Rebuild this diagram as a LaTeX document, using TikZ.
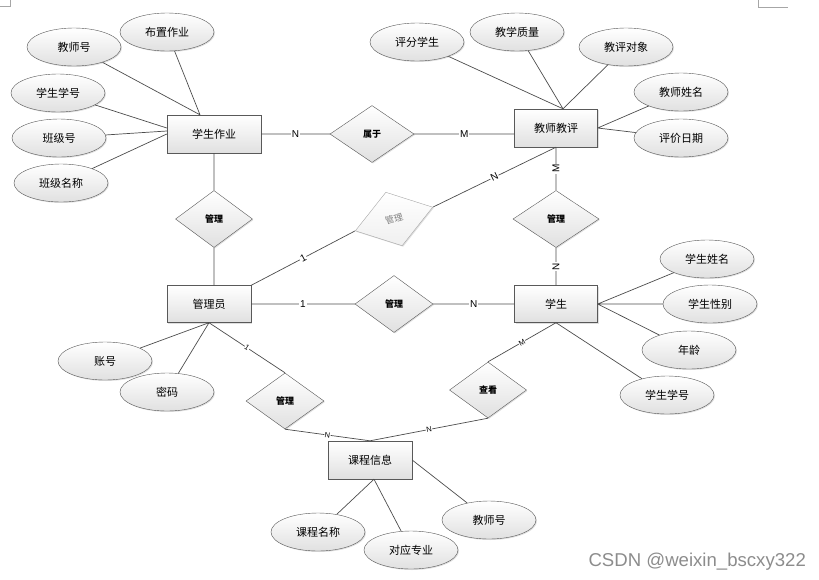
\documentclass[tikz,border=0pt]{standalone}
\usepackage{fontspec}
\setmainfont{Noto Sans CJK SC}
\setsansfont{Liberation Sans}
\usetikzlibrary{positioning}
\usetikzlibrary{shapes.geometric,shadows}

\begin{document}
\begin{tikzpicture}[x=1pt,y=-1pt,
  every node/.style={font=\fontsize{11}{13}\selectfont},
  shade/.style={top color=white,bottom color=black!12,drop shadow={opacity=0.25,shadow xshift=1pt,shadow yshift=-1pt}},
  ent/.style={draw=black!65,rectangle,shade,minimum width=84pt,minimum height=38pt},
  attr/.style={draw=black!65,ellipse,shade,minimum width=94pt,minimum height=38pt,inner sep=0pt},
  rel/.style={draw=black!65,diamond,shade,minimum width=78pt,minimum height=57pt,inner sep=0pt,font=\fontsize{9}{10}\selectfont\bfseries},
  link/.style={draw=black!70,line width=0.7pt},
  lbl/.style={fill=white,inner sep=0.8pt,font=\sffamily\fontsize{10}{11}\selectfont},
  slbl/.style={fill=white,inner sep=0.5pt,sloped,font=\sffamily\fontsize{7.5}{8}\selectfont}]
  \useasboundingbox (0,0) rectangle (819,579);
  % page corner marks
  \draw[black!35,line width=0.5pt] (0,6) -- (10,6) -- (10,0);
  \draw[black!35,line width=0.5pt] (758,0) -- (758,7) -- (788,7);

  % entities
  \node[ent,minimum width=94pt] (zy) at (214,134) {学生作业};
  \node[ent,minimum width=83pt] (jp) at (556,128) {教师教评};
  \node[ent,minimum height=37pt] (gly) at (209,304) {管理员};
  \node[ent,minimum width=83pt,minimum height=37pt] (xs) at (556,304) {学生};
  \node[ent] (kc) at (370,460) {课程信息};

  % relations
  \node[rel,minimum width=84pt] (sy) at (372,134) {属于};
  \node[rel,minimum width=77pt] (gl1) at (214,219) {管理};
  \node[rel,minimum width=86pt] (gl2) at (556,219) {管理};
  \node[rel] (gl3) at (394,304) {管理};
  \node[rel,minimum height=56pt] (gl4) at (285,401) {管理};
  \node[rel,minimum width=77pt,minimum height=56pt] (ck) at (488,390) {查看};
  \node[rel,draw=black!35,top color=white,bottom color=black!6,rotate=17,minimum width=81pt,minimum height=56pt,
        text=black!50,font=\fontsize{9}{10}\selectfont] (glg) at (394,219) {管理};

  % attributes
  \node[attr] (a1) at (74,47) {教师号};
  \node[attr] (a2) at (167,32) {布置作业};
  \node[attr] (a3) at (58,93) {学生学号};
  \node[attr] (a4) at (59,138) {班级号};
  \node[attr] (a5) at (61,183) {班级名称};
  \node[attr] (b1) at (417,42) {评分学生};
  \node[attr] (b2) at (517,32) {教学质量};
  \node[attr] (b3) at (626,47) {教评对象};
  \node[attr] (b4) at (681,92) {教师姓名};
  \node[attr] (b5) at (681,138) {评价日期};
  \node[attr] (c1) at (707,259) {学生姓名};
  \node[attr] (c2) at (710,304) {学生性别};
  \node[attr] (c3) at (689,350) {年龄};
  \node[attr] (c4) at (667,395) {学生学号};
  \node[attr] (d1) at (105,361) {账号};
  \node[attr] (d2) at (167,392) {密码};
  \node[attr] (e1) at (318,532) {课程名称};
  \node[attr] (e2) at (411,550) {对应专业};
  \node[attr] (e3) at (489,520) {教师号};

  % attribute lines
  \path[link] (a1) -- ([xshift=-14pt]zy.north)
    (a2) -- ([xshift=-14pt]zy.north)
    (a3) -- ([yshift=6pt]zy.west)
    (a4) -- ([yshift=3pt]zy.west)
    (a5) -- (zy.west);
  \path[link] (b1) -- ([xshift=7pt]jp.north)
    (b2) -- ([xshift=7pt]jp.north)
    (b3) -- ([xshift=7pt]jp.north)
    (b4) -- (jp.east)
    (b5) -- (jp.east);
  \path[link] (c1) -- (xs.east)
    (c2) -- (xs.east)
    (c3) -- (xs.east)
    (c4) -- (xs.south);
  \path[link] (d1) -- (gly.south)
    (d2) -- (gly.south);
  \path[link] (e1) -- ([xshift=4pt]kc.south)
    (e2) -- ([xshift=4pt]kc.south)
    (e3) -- (kc.east);

  % relation lines
  \path[link] (zy) -- node[lbl] {N} (sy)
    (sy.east) -- node[lbl] {M} (sy.east -| jp.west)
    (zy) -- (gl1)
    (gl1.south) -- (gl1.south |- gly.north)
    (gly.north east) -- node[lbl,sloped] {1} (glg.west)
    (glg.east) -- node[lbl,sloped] {N} (jp.south)
    (jp) -- node[lbl,rotate=90] {M} (gl2)
    (gl2) -- node[lbl,rotate=90] {N} (xs)
    (gly) -- node[lbl] {1} (gl3)
    (gl3) -- node[lbl] {N} (xs)
    (gly.south) -- node[slbl] {1} (gl4.north)
    (gl4.south) -- node[slbl] {N} (kc.north)
    (xs.south) -- node[slbl] {M} (ck.north)
    (ck.south) -- node[slbl] {N} (kc.north);

  \node[anchor=base west,text=black!45,font=\sffamily\fontsize{18.6}{20}\selectfont] (wm) at (585,566) {CSDN @weixin\_bscxy322};
\end{tikzpicture}
\end{document}
